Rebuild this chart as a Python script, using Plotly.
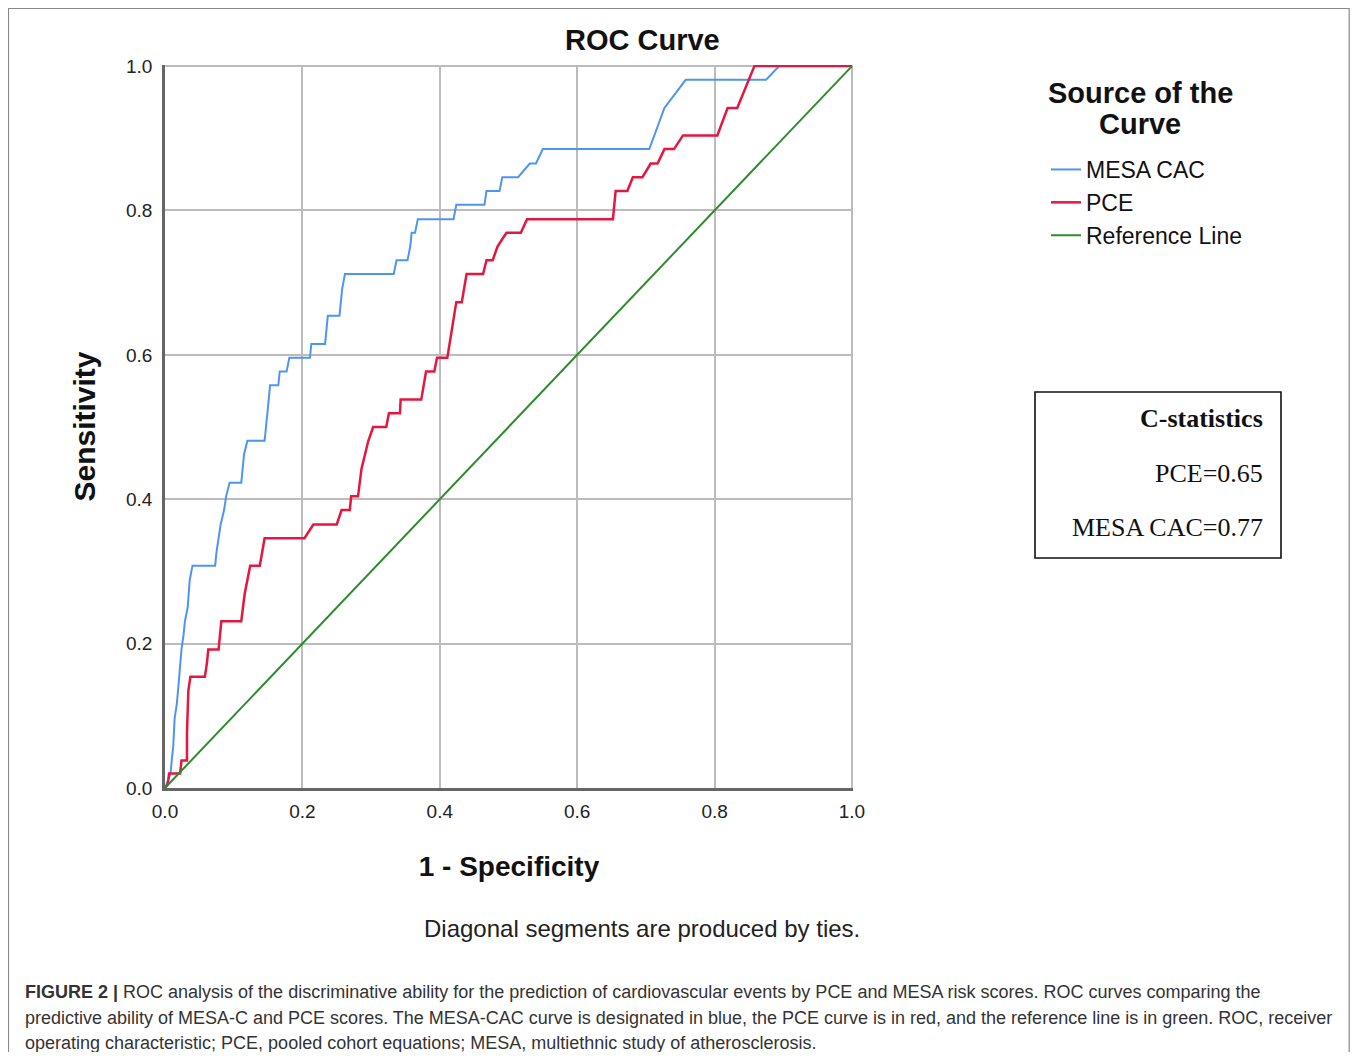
import plotly.graph_objects as go

# ---------------- data ----------------
mesa_fpr = [0.0, 0.008, 0.010, 0.012, 0.014, 0.017, 0.019, 0.022, 0.024, 0.027, 0.029, 0.033,
            0.034, 0.036, 0.040, 0.073, 0.075, 0.078, 0.081, 0.086, 0.089, 0.094, 0.111, 0.113,
            0.115, 0.120, 0.145, 0.149, 0.153, 0.165, 0.167, 0.177, 0.181, 0.211, 0.213, 0.233,
            0.237, 0.254, 0.258, 0.262, 0.333, 0.337, 0.353, 0.357, 0.359, 0.364, 0.368, 0.420,
            0.424, 0.465, 0.468, 0.487, 0.491, 0.514, 0.531, 0.540, 0.550, 0.705, 0.727, 0.758,
            0.875, 0.894, 1.0]
mesa_tpr = [0.0, 0.020, 0.040, 0.058, 0.096, 0.115, 0.135, 0.177, 0.192, 0.212, 0.231, 0.250,
            0.270, 0.288, 0.308, 0.308, 0.327, 0.346, 0.365, 0.385, 0.404, 0.423, 0.423, 0.442,
            0.462, 0.481, 0.481, 0.519, 0.558, 0.558, 0.577, 0.577, 0.596, 0.596, 0.615, 0.615,
            0.654, 0.654, 0.692, 0.712, 0.712, 0.731, 0.731, 0.750, 0.769, 0.769, 0.788, 0.788,
            0.808, 0.808, 0.827, 0.827, 0.846, 0.846, 0.865, 0.865, 0.885, 0.885, 0.942, 0.981,
            0.981, 1.0, 1.0]

pce_fpr = [0.0, 0.004, 0.006, 0.022, 0.024, 0.032, 0.032, 0.034, 0.037, 0.058, 0.061, 0.063,
           0.078, 0.080, 0.082, 0.111, 0.114, 0.116, 0.124, 0.138, 0.145, 0.203, 0.216, 0.250,
           0.257, 0.269, 0.271, 0.281, 0.286, 0.296, 0.303, 0.322, 0.326, 0.342, 0.343, 0.373,
           0.380, 0.392, 0.396, 0.411, 0.424, 0.432, 0.439, 0.463, 0.468, 0.477, 0.484, 0.497,
           0.518, 0.527, 0.652, 0.656, 0.673, 0.681, 0.695, 0.707, 0.717, 0.727, 0.741, 0.754,
           0.804, 0.819, 0.833, 0.858, 1.0]
pce_tpr = [0.0, 0.005, 0.020, 0.020, 0.038, 0.038, 0.077, 0.135, 0.154, 0.154, 0.173, 0.192,
           0.192, 0.212, 0.231, 0.231, 0.250, 0.269, 0.308, 0.308, 0.346, 0.346, 0.365, 0.365,
           0.385, 0.385, 0.404, 0.404, 0.442, 0.481, 0.500, 0.500, 0.519, 0.519, 0.538, 0.538,
           0.577, 0.577, 0.596, 0.596, 0.673, 0.673, 0.712, 0.712, 0.731, 0.731, 0.750, 0.769,
           0.769, 0.788, 0.788, 0.827, 0.827, 0.846, 0.846, 0.865, 0.865, 0.885, 0.885, 0.904,
           0.904, 0.942, 0.942, 1.0, 1.0]

ref_x = [0.0, 1.0]
ref_y = [0.0, 1.0]

series_names = ["MESA CAC", "PCE", "Reference Line"]
tick_vals = [0.0, 0.2, 0.4, 0.6, 0.8, 1.0]
tick_text = ["0.0", "0.2", "0.4", "0.6", "0.8", "1.0"]

c_stat_title = "C-statistics"
c_stat_lines = ["PCE=0.65", "MESA CAC=0.77"]

caption_lines = [
    "<b>FIGURE 2 |</b> ROC analysis of the discriminative ability for the prediction of cardiovascular events by PCE and MESA risk scores. ROC curves comparing the",
    "predictive ability of MESA-C and PCE scores. The MESA-CAC curve is designated in blue, the PCE curve is in red, and the reference line is in green. ROC, receiver",
    "operating characteristic; PCE, pooled cohort equations; MESA, multiethnic study of atherosclerosis.",
]

# ---------------- layout geometry ----------------
# the page body has an 8px margin, so figure coords = screen coords - 8
OFF = 8
W, H = 1342, 1044
L, R, T, B = 165 - OFF, 853 - OFF, 65 - OFF, 788 - OFF  # plot area in figure px


def px_x(p):  # p in screen px
    return (p - OFF - L) / (R - L)


def px_y(p):
    return (B - (p - OFF)) / (B - T)


SANS = "Liberation Sans, Arial, sans-serif"
SERIF = "Liberation Serif, Times New Roman, serif"

fig = go.Figure()
fig.add_trace(go.Scatter(x=mesa_fpr, y=mesa_tpr, mode="lines", name=series_names[0],
                         line=dict(color="#4f95f0", width=2)))
fig.add_trace(go.Scatter(x=pce_fpr, y=pce_tpr, mode="lines", name=series_names[1],
                         line=dict(color="#e3173f", width=2.5)))
fig.add_trace(go.Scatter(x=ref_x, y=ref_y, mode="lines", name=series_names[2],
                         line=dict(color="#2e8b2e", width=2)))

axis_common = dict(
    range=[0, 1.0015], tickvals=tick_vals, ticktext=tick_text,
    showgrid=True, gridcolor="#bcbcbc", gridwidth=2,
    zeroline=False, showline=True, linecolor="#666666", linewidth=2.5,
    tickfont=dict(family=SANS, size=19, color="#222"),
    ticks="", fixedrange=True,
)
fig.update_xaxes(**axis_common, ticklabelstandoff=4,
                 title=dict(text="<b>1 - Specificity</b>", font=dict(family=SANS, size=28, color="#111"),
                            standoff=36))
fig.update_yaxes(**axis_common, ticklabelstandoff=6,
                 title=dict(text="<b>Sensitivity</b>", font=dict(family=SANS, size=30, color="#111"),
                            standoff=22))

shapes = [
    # outer frame (bottom edge runs off the page)
    dict(type="rect", xref="paper", yref="paper", x0=px_x(8.5), x1=px_x(1349.2), y0=px_y(1090), y1=px_y(8.5),
         line=dict(color="#8a8a8a", width=1.2), layer="below"),
    # C-statistics box
    dict(type="rect", xref="paper", yref="paper", x0=px_x(1035), x1=px_x(1281), y0=px_y(558), y1=px_y(392),
         line=dict(color="#111", width=1.6)),
]

annotations = [
    dict(text="<b>ROC Curve</b>", x=px_x(642), y=px_y(40), xref="paper", yref="paper",
         showarrow=False, xanchor="center", yanchor="middle", font=dict(family=SANS, size=29, color="#111")),
    dict(text="<b>Source of the</b>", x=px_x(1140), y=px_y(93), xref="paper", yref="paper",
         showarrow=False, xanchor="center", yanchor="middle",
         font=dict(family=SANS, size=29, color="#111")),
    dict(text="<b>Curve</b>", x=px_x(1140), y=px_y(124), xref="paper", yref="paper",
         showarrow=False, xanchor="center", yanchor="middle",
         font=dict(family=SANS, size=29, color="#111")),
    dict(text="Diagonal segments are produced by ties.", x=px_x(642), y=px_y(928), xref="paper", yref="paper",
         showarrow=False, xanchor="center", yanchor="middle", font=dict(family=SANS, size=24, color="#222")),
    dict(text="<b>" + c_stat_title + "</b>", x=px_x(1265), y=px_y(418), xref="paper", yref="paper",
         showarrow=False, xanchor="right", yanchor="middle", font=dict(family=SERIF, size=26, color="#111")),
]
for i, line in enumerate(c_stat_lines):
    annotations.append(dict(text=line, x=px_x(1265), y=px_y(473 + 54 * i), xref="paper", yref="paper",
                            showarrow=False, xanchor="right", yanchor="middle",
                            font=dict(family=SERIF, size=26, color="#111")))
for i, line in enumerate(caption_lines):
    annotations.append(dict(text=line, x=px_x(23), y=px_y(992 + 25.5 * i), xref="paper", yref="paper",
                            showarrow=False, xanchor="left", yanchor="middle", align="left",
                            font=dict(family=SANS, size=18, color="#333")))

fig.update_layout(
    width=W, height=H,
    margin=dict(l=L, r=W - R, t=T, b=H - B, autoexpand=False),
    paper_bgcolor="white", plot_bgcolor="white",
    showlegend=True,
    legend=dict(x=px_x(1046), y=px_y(148), xanchor="left", yanchor="top",
                font=dict(family=SANS, size=23, color="#111"),
                bgcolor="rgba(0,0,0,0)", tracegroupgap=0, itemwidth=30),
    shapes=shapes, annotations=annotations,
)

fig.write_html("out.html")
